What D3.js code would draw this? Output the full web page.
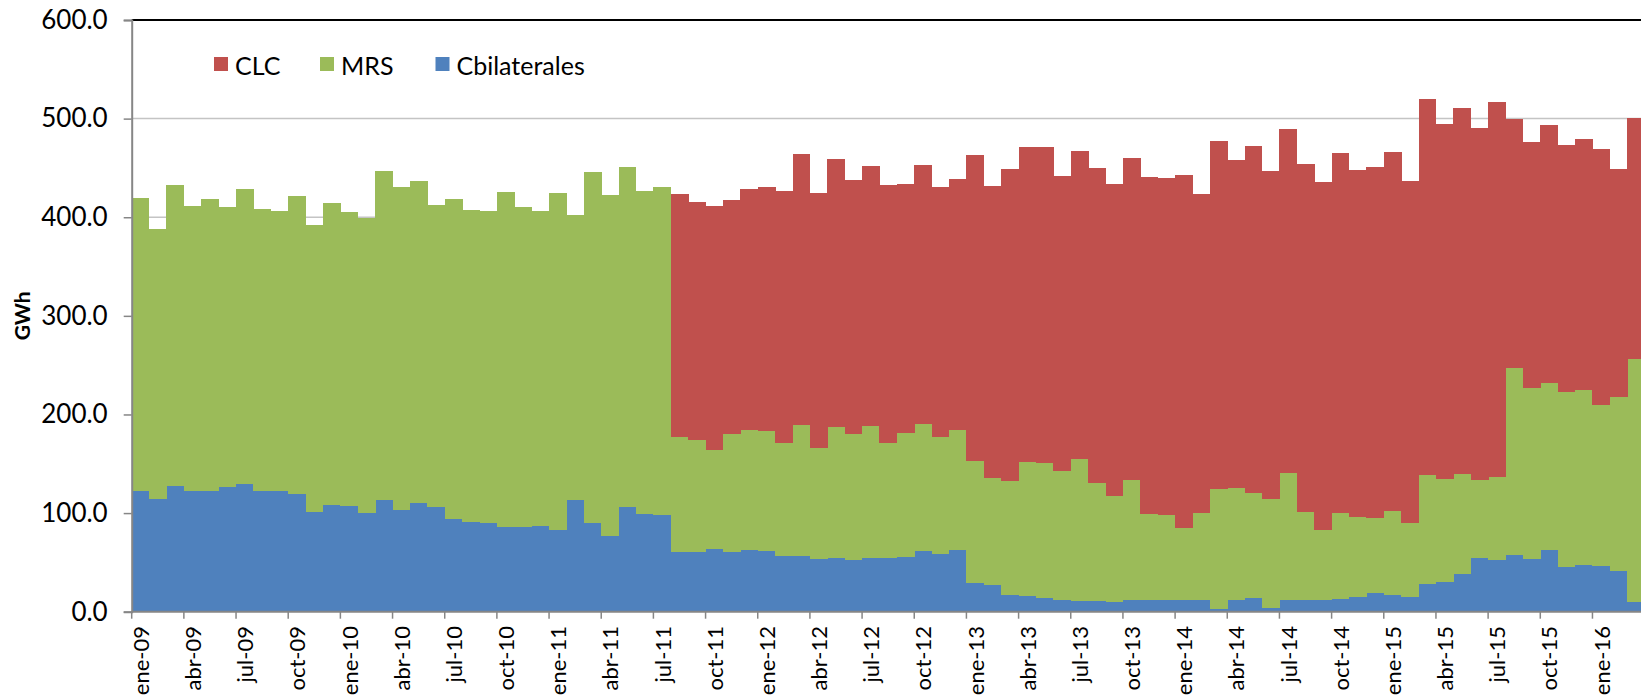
<!DOCTYPE html>
<html>
<head>
<meta charset="utf-8">
<script src="https://cdn.jsdelivr.net/npm/d3@7"></script>
<style>
  html, body { margin: 0; padding: 0; background: #fff; }
  svg { display: block; }
  text { font-family: Lato, "Noto Sans", sans-serif; fill: #000; }
</style>
</head>
<body>
<svg id="chart" width="1641" height="695"></svg>
<script>
const categories = [
  "ene-09","feb-09","mar-09","abr-09","may-09","jun-09","jul-09","ago-09","sep-09","oct-09","nov-09","dic-09",
  "ene-10","feb-10","mar-10","abr-10","may-10","jun-10","jul-10","ago-10","sep-10","oct-10","nov-10","dic-10",
  "ene-11","feb-11","mar-11","abr-11","may-11","jun-11","jul-11","ago-11","sep-11","oct-11","nov-11","dic-11",
  "ene-12","feb-12","mar-12","abr-12","may-12","jun-12","jul-12","ago-12","sep-12","oct-12","nov-12","dic-12",
  "ene-13","feb-13","mar-13","abr-13","may-13","jun-13","jul-13","ago-13","sep-13","oct-13","nov-13","dic-13",
  "ene-14","feb-14","mar-14","abr-14","may-14","jun-14","jul-14","ago-14","sep-14","oct-14","nov-14","dic-14",
  "ene-15","feb-15","mar-15","abr-15","may-15","jun-15","jul-15","ago-15","sep-15","oct-15","nov-15","dic-15",
  "ene-16","feb-16","mar-16"
];

const cbilaterales = [
  122.2,113.8,127.6,122.9,122.9,126.9,129.3,122.2,122.2,118.9,
  100.7,108.1,106.7,100.0,112.8,103.0,110.1,106.1,93.6,90.6,
  89.9,85.5,85.5,86.5,82.5,113.5,89.9,77.1,105.8,99.4,
  97.7,60.9,60.9,63.9,60.9,62.5,61.9,56.1,56.8,53.4,
  54.8,52.7,54.8,54.8,55.8,61.9,58.8,62.5,29.1,27.0,
  16.6,15.9,14.2,12.2,10.5,10.5,10.2,11.5,11.5,11.5,
  12.2,11.5,3.1,11.5,14.2,3.4,12.2,12.2,11.5,13.2,
  15.2,19.3,17.3,15.2,28.4,30.5,38.6,54.8,52.8,57.8,
  53.8,62.9,45.7,47.0,46.7,41.6,9.5
];

const mrs = [
  297.8,274.7,304.9,288.6,295.1,283.6,299.8,286.6,283.9,302.4,
  291.5,306.1,298.4,299.3,333.6,327.5,326.2,305.8,324.7,317.2,
  316.2,340.3,325.3,320.3,342.2,288.9,355.8,345.2,345.2,326.9,
  333.0,116.2,113.2,100.4,119.6,121.7,121.3,114.6,132.5,112.6,
  132.2,127.8,133.2,115.9,125.4,128.1,118.0,121.7,123.7,108.6,
  115.9,136.2,136.2,130.5,144.3,120.3,107.1,121.7,87.6,86.6,
  72.3,88.6,121.3,113.9,106.2,110.9,128.4,88.9,71.7,86.9,
  80.5,75.4,84.8,74.7,110.2,104.1,101.1,78.8,83.8,189.0,
  172.7,169.0,176.8,177.5,162.9,175.8,246.8
];

const clc = [
  0,0,0,0,0,0,0,0,0,0,
  0,0,0,0,0,0,0,0,0,0,
  0,0,0,0,0,0,0,0,0,0,
  0,246.9,241.1,247.1,237.0,244.8,247.5,256.3,275.2,259.0,
  272.4,257.6,264.3,261.7,252.6,263.4,253.9,255.0,310.0,296.5,
  316.1,319.5,320.9,299.5,312.8,319.2,316.1,326.9,341.4,341.4,
  358.0,323.9,353.0,332.7,351.5,332.6,348.6,353.3,352.2,364.7,
  352.6,356.0,363.8,346.6,381.0,359.7,370.8,356.9,380.0,253.2,
  249.5,261.7,250.5,254.9,259.3,231.9,244.4
];

const yTicks = [0, 100, 200, 300, 400, 500, 600];
const seriesNames = ["Cbilaterales", "MRS", "CLC"];
const legendOrder = ["CLC", "MRS", "Cbilaterales"];
const colors = { "CLC": "#C0504D", "MRS": "#9BBB59", "Cbilaterales": "#4F81BD" };

const svg = d3.select("#chart");
const plotLeft = 131.7, plotTop = 20, plotBottom = 611.7;
const monthW = 17.39;

const rows = categories.map((c, i) => ({
  cat: c, "Cbilaterales": cbilaterales[i], "MRS": mrs[i], "CLC": clc[i]
}));

const x = d3.scaleBand().domain(categories)
  .range([plotLeft, plotLeft + monthW * categories.length]).padding(0);
const y = d3.scaleLinear().domain([0, 600]).range([plotBottom, plotTop]);

// gridlines
svg.append("g").selectAll("line").data(yTicks.filter(t => t > 0 && t < 600)).join("line")
  .attr("x1", plotLeft).attr("x2", 1641)
  .attr("y1", d => y(d)).attr("y2", d => y(d))
  .attr("stroke", "#c4c4c4").attr("stroke-width", 1.5);

// stacked bars
const stack = d3.stack().keys(seriesNames)(rows);
svg.append("g").selectAll("g").data(stack).join("g")
  .attr("fill", d => colors[d.key])
  .selectAll("rect").data(d => d).join("rect")
  .attr("x", d => x(d.data.cat))
  .attr("width", x.bandwidth() + 0.4)
  .attr("y", d => y(d[1]))
  .attr("height", d => Math.max(0, y(d[0]) - y(d[1])))
  .attr("shape-rendering", "crispEdges");

// top line at 600
svg.append("line")
  .attr("x1", plotLeft).attr("x2", 1641)
  .attr("y1", y(600)).attr("y2", y(600))
  .attr("stroke", "#000").attr("stroke-width", 2);

// y axis
const yAxis = d3.axisLeft(y).tickValues(yTicks).tickSize(8).tickPadding(16)
  .tickFormat(d3.format(".1f"));
const gy = svg.append("g").attr("transform", `translate(${plotLeft},0)`).call(yAxis);
gy.select(".domain").attr("stroke", "#868686").attr("stroke-width", 2);
gy.selectAll(".tick line").attr("stroke", "#868686").attr("stroke-width", 1.5);
gy.selectAll(".tick text").attr("font-size", 26).attr("font-family", "Lato, 'Noto Sans', sans-serif").attr("fill", "#000");

// x axis
const xAxisG = svg.append("g");
xAxisG.append("line")
  .attr("x1", plotLeft).attr("x2", 1641)
  .attr("y1", plotBottom).attr("y2", plotBottom)
  .attr("stroke", "#868686").attr("stroke-width", 2);
const labelCats = categories.filter((c, i) => i % 3 === 0);
xAxisG.selectAll("line.tk").data(labelCats).join("line").attr("class", "tk")
  .attr("x1", d => x(d)).attr("x2", d => x(d))
  .attr("y1", plotBottom).attr("y2", plotBottom + 7)
  .attr("stroke", "#868686").attr("stroke-width", 1.5);
xAxisG.selectAll("text").data(labelCats).join("text")
  .attr("transform", d => `translate(${x(d) + x.bandwidth() / 2},626) rotate(-90)`)
  .attr("text-anchor", "end")
  .attr("dominant-baseline", "central")
  .attr("font-size", 22)
  .text(d => d);

// y axis title
svg.append("text")
  .attr("transform", `translate(21,${(plotTop + plotBottom) / 2}) rotate(-90)`)
  .attr("text-anchor", "middle").attr("dominant-baseline", "central")
  .attr("font-size", 21).attr("font-weight", "bold")
  .text("GWh");

// legend
const legendX = [214, 320, 435.5];
const lg = svg.append("g").selectAll("g").data(legendOrder).join("g")
  .attr("transform", (d, i) => `translate(${legendX[i]},57)`);
lg.append("rect").attr("width", 14).attr("height", 14).attr("fill", d => colors[d]);
lg.append("text").attr("x", 21).attr("y", 7.5)
  .attr("dominant-baseline", "central").attr("font-size", 25)
  .text(d => d);
</script>
</body>
</html>
